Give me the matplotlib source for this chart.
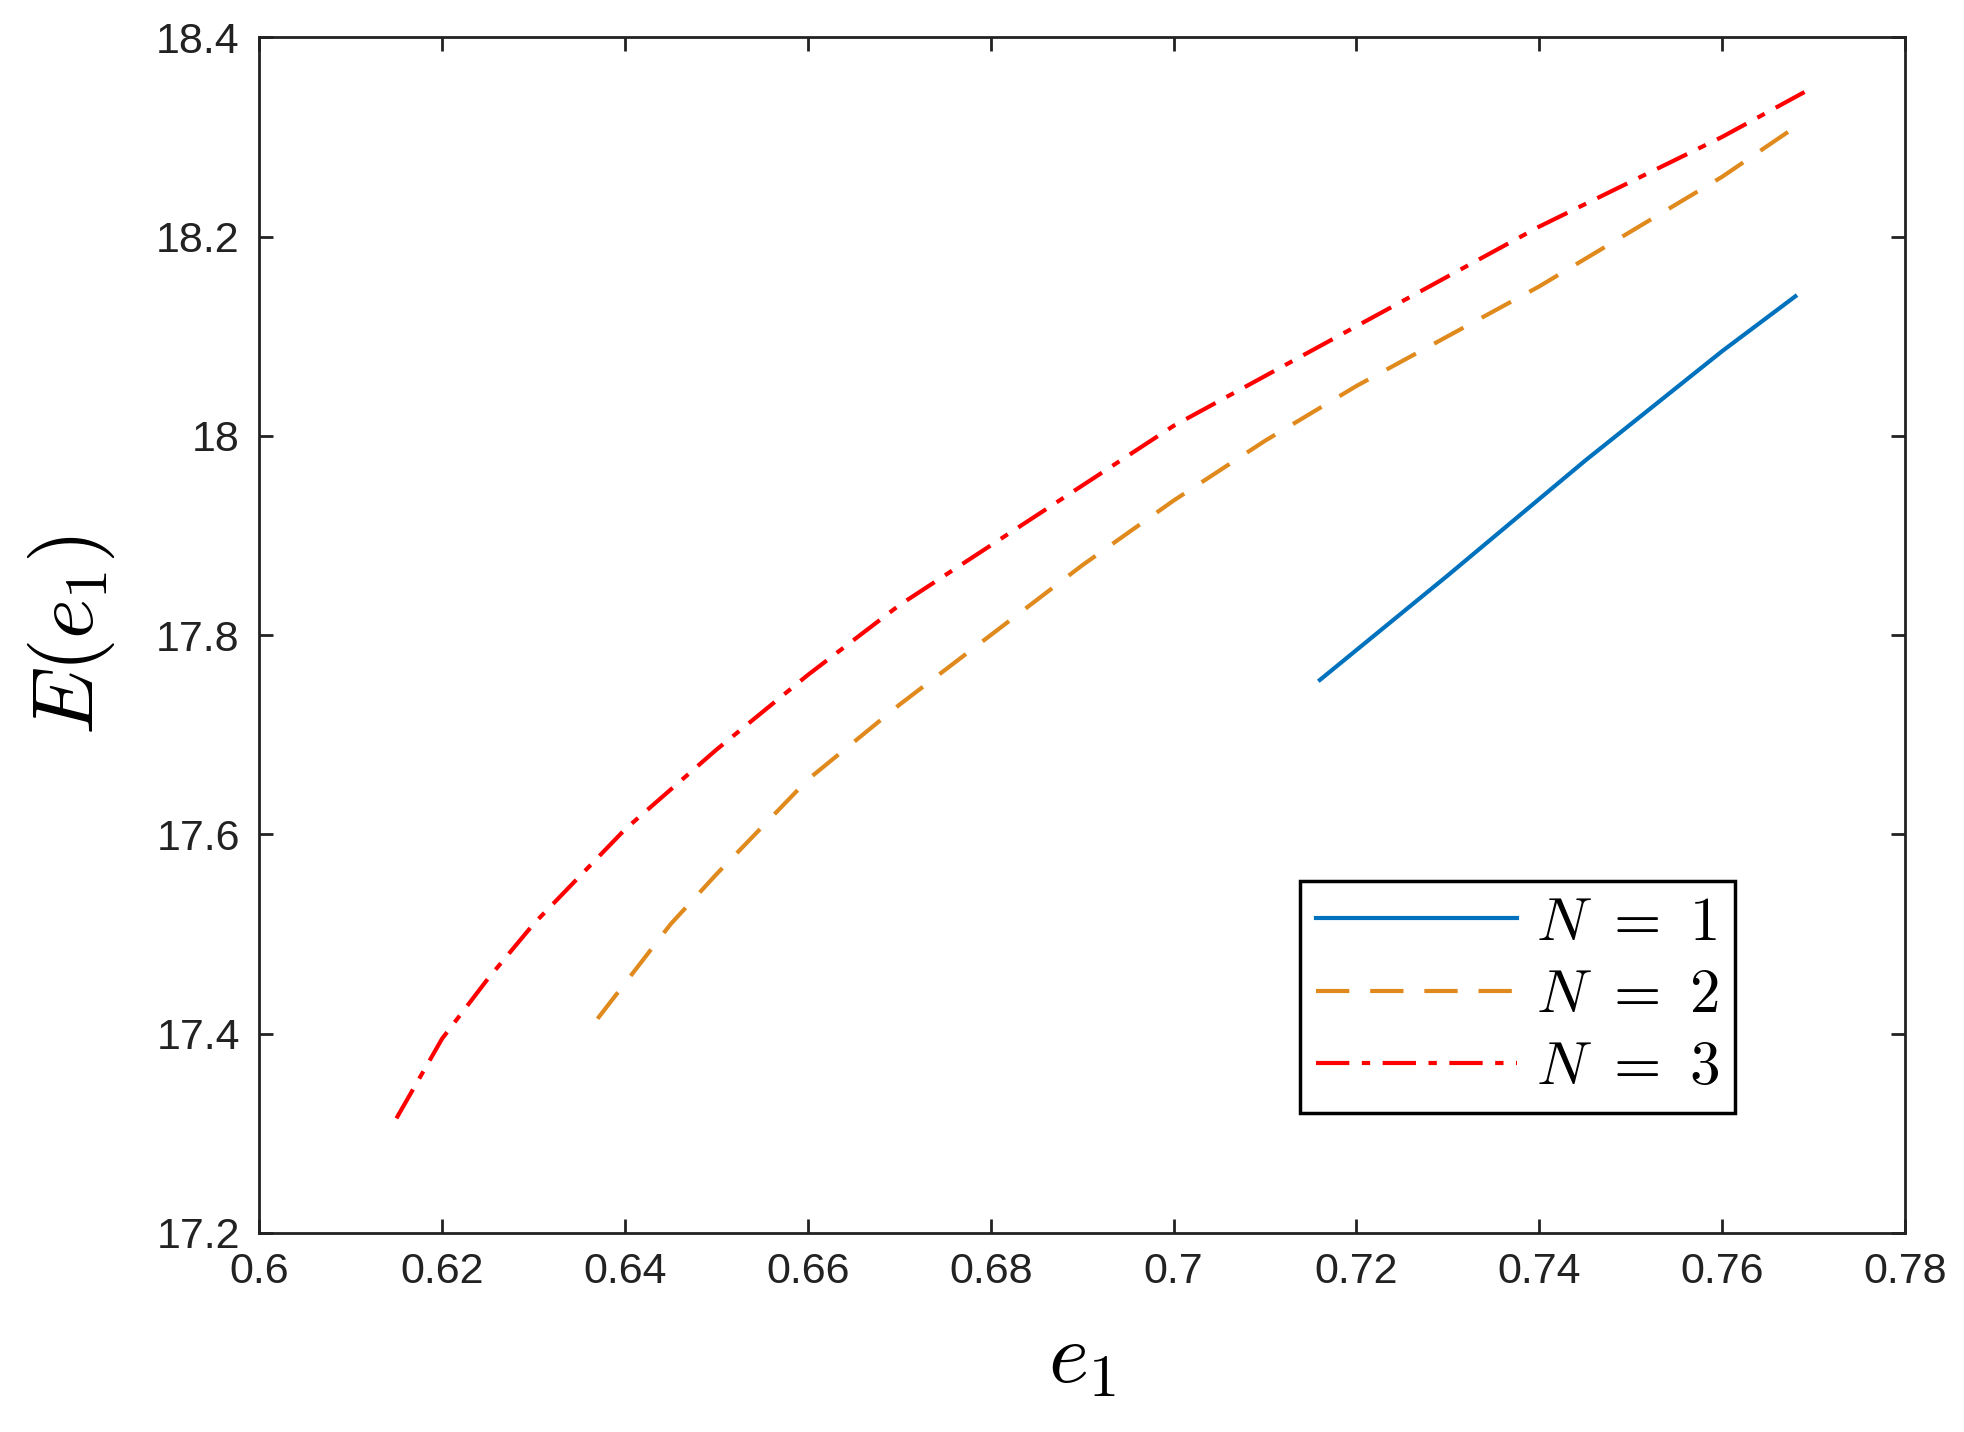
import matplotlib.pyplot as plt

# values
e1_n1 = [0.716, 0.730, 0.745, 0.760, 0.768]
E_n1 = [17.755, 17.86, 17.975, 18.085, 18.14]

e1_n2 = [0.637, 0.645, 0.65, 0.66, 0.67, 0.68, 0.69, 0.70, 0.71, 0.72, 0.73, 0.74, 0.75, 0.76, 0.768]
E_n2 = [17.415, 17.51, 17.56, 17.655, 17.73, 17.80, 17.87, 17.935, 17.995, 18.05, 18.10, 18.15, 18.205, 18.26, 18.31]

e1_n3 = [0.615, 0.62, 0.625, 0.63, 0.64, 0.65, 0.66, 0.67, 0.68, 0.69, 0.70, 0.71, 0.72, 0.73, 0.74, 0.75, 0.76, 0.769]
E_n3 = [17.315, 17.395, 17.455, 17.51, 17.605, 17.685, 17.76, 17.83, 17.89, 17.95, 18.01, 18.06, 18.11, 18.16, 18.21, 18.255, 18.30, 18.345]

xticks = [0.6, 0.62, 0.64, 0.66, 0.68, 0.7, 0.72, 0.74, 0.76, 0.78]
yticks = [17.2, 17.4, 17.6, 17.8, 18, 18.2, 18.4]

plt.rcParams['font.family'] = ['Liberation Sans', 'DejaVu Sans']
plt.rcParams['mathtext.fontset'] = 'cm'

fig = plt.figure(figsize=(19.64, 14.32), dpi=100)
ax = fig.add_axes([0.132, 0.139, 0.838, 0.835])

ax.plot(e1_n1, E_n1, '-', color='#0072BD', lw=3, label=r'$N\ =\ 1$')
ax.plot(e1_n2, E_n2, '--', color='#E08A1E', lw=3, dashes=(8, 5), label=r'$N\ =\ 2$')
ax.plot(e1_n3, E_n3, '-.', color='red', lw=3, dashes=(8, 3, 2, 3), label=r'$N\ =\ 3$')

ax.set_xlim(0.6, 0.78)
ax.set_ylim(17.2, 18.4)
ax.set_xticks(xticks)
ax.set_xticklabels([f'{v:g}' for v in xticks])
ax.set_yticks(yticks)
ax.set_yticklabels([f'{v:g}' for v in yticks])
ax.tick_params(direction='in', top=True, right=True, length=10, width=2,
               labelsize=31, colors='#222222', pad=14)
for s in ax.spines.values():
    s.set_linewidth(2)
    s.set_color('#222222')

ax.set_xlabel('$e_1$', fontsize=62, labelpad=20)
ax.set_ylabel('$E(e_1)$', fontsize=62, labelpad=28)

leg = ax.legend(loc='lower right', bbox_to_anchor=(0.915, 0.075), fontsize=44,
                fancybox=False, edgecolor='black', framealpha=1,
                handlelength=3.3, handletextpad=0.3, borderpad=0.25,
                labelspacing=0.25)
leg.get_frame().set_linewidth(2.5)

fig.savefig('out.png', dpi=100)
